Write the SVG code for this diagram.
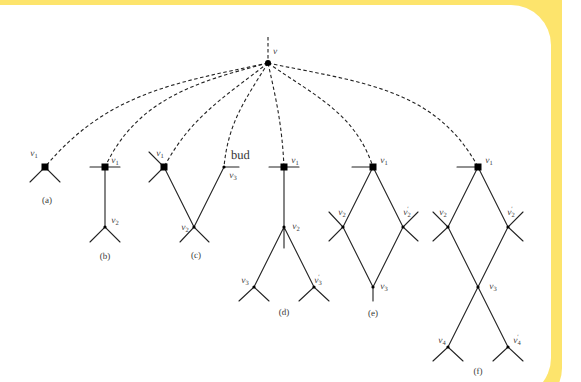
<svg xmlns="http://www.w3.org/2000/svg" width="581" height="382" viewBox="0 0 581 382">
  <style>
    .ln { stroke: #222; stroke-width: 1.1; fill: none; stroke-linecap: round; }
    .dash { stroke: #222; stroke-width: 1.1; fill: none; stroke-dasharray: 3.5 2.5; }
    .sq { fill: #000; }
    .dot { fill: #000; }
    text { text-rendering: geometricPrecision; }
    .lab { font-family: "Liberation Serif", "DejaVu Serif", serif; font-style: italic; font-size: 9.5px; fill: #3a3a3a; text-anchor: middle; }
    .sub { font-size: 6.5px; font-style: normal; fill: #3a3a3a; }
    .cap { font-family: "Liberation Serif", "DejaVu Serif", serif; font-size: 9px; fill: #3a3a3a; text-anchor: middle; }
    .bud { font-family: "Liberation Serif", "DejaVu Serif", serif; font-size: 12.5px; fill: #333; }
  </style>
  <defs>
    <rect id="sqv" class="sq" x="-3.5" y="-3.5" width="7" height="7"/>
    <circle id="pt" class="dot" r="1.6"/>
  </defs>

  <!-- page frame -->
  <rect width="581" height="382" fill="#fff"/>
  <rect x="-40" y="-40" width="602" height="448" rx="40" fill="#fde46c"/>
  <rect x="-40" y="5" width="591" height="393" rx="40" fill="#fff"/>

  <!-- dashed connectors from the root v -->
  <g id="connectors">
    <path class="dash" d="M268 37 L268 63"/>
    <path class="dash" d="M268 63 C174 83 107 93 45 167"/>
    <path class="dash" d="M268 63 C196 82 137 99 105 167"/>
    <path class="dash" d="M268 63 C223 98 191 117 164 167"/>
    <path class="dash" d="M268 63 C245 100 228 123 224 167"/>
    <path class="dash" d="M268 63 C277 103 282 126 284 167"/>
    <path class="dash" d="M268 63 C315 96 355 113 373 167"/>
    <path class="dash" d="M268 63 C357 82 435 87 478 167"/>
  </g>

  <!-- root -->
  <g id="root-v">
    <circle cx="268" cy="63" r="3" fill="#000"/>
    <text class="lab" x="275" y="54">v</text>
  </g>

  <!-- (a) -->
  <g id="tree-a">
    <path class="ln" d="M30 182 L45 167 L60 182"/>
    <use href="#sqv" x="45" y="167"/>
    <text class="lab" x="34" y="156">v<tspan class="sub" dy="2">1</tspan></text>
    <text class="cap" x="47" y="203">(a)</text>
  </g>

  <!-- (b) -->
  <g id="tree-b">
    <path class="ln" d="M90 167 L120 167 M105 167 L105 227 M90 242 L105 227 L120 242"/>
    <use href="#sqv" x="105" y="167"/>
    <use href="#pt" x="105" y="227"/>
    <text class="lab" x="115" y="163">v<tspan class="sub" dy="2">1</tspan></text>
    <text class="lab" x="115" y="223">v<tspan class="sub" dy="2">2</tspan></text>
    <text class="cap" x="105" y="259">(b)</text>
  </g>

  <!-- (c) with bud -->
  <g id="tree-c">
    <path class="ln" d="M149 152 L164 167 L149 182 M164 167 L194 227 L224 167 L239 167 M180 242 L194 227 L209 242"/>
    <use href="#sqv" x="164" y="167"/>
    <use href="#pt" x="194" y="227"/>
    <use href="#pt" x="224" y="167"/>
    <text class="lab" x="160" y="156">v<tspan class="sub" dy="2">1</tspan></text>
    <text class="lab" x="185" y="230">v<tspan class="sub" dy="2">2</tspan></text>
    <text class="lab" x="233" y="178">v<tspan class="sub" dy="2">3</tspan></text>
    <text class="bud" x="231" y="159">bud</text>
    <text class="cap" x="196" y="258">(c)</text>
  </g>

  <!-- (d) -->
  <g id="tree-d">
    <path class="ln" d="M269 167 L299 167 M284 167 L284 248 M284 227 L254 287 M284 227 L314 287 M239 301 L254 287 L269 301 M299 301 L314 287 L329 301"/>
    <use href="#sqv" x="284" y="167"/>
    <use href="#pt" x="284" y="227"/>
    <use href="#pt" x="254" y="287"/>
    <use href="#pt" x="314" y="287"/>
    <text class="lab" x="295" y="163">v<tspan class="sub" dy="2">1</tspan></text>
    <text class="lab" x="296" y="229">v<tspan class="sub" dy="2">2</tspan></text>
    <text class="lab" x="245" y="283">v<tspan class="sub" dy="2">3</tspan></text>
    <text class="lab" x="318" y="283">v<tspan class="sub" dy="2">3</tspan><tspan class="sub" dx="-3.5" dy="-6">′</tspan></text>
    <text class="cap" x="284" y="315">(d)</text>
  </g>

  <!-- (e) -->
  <g id="tree-e">
    <path class="ln" d="M352 167 L373 167 M373 167 L343 227 L373 287 L403 227 Z M329 212 L343 227 L329 241 M418 212 L403 227 L418 241 M373 287 L373 301"/>
    <use href="#sqv" x="373" y="167"/>
    <use href="#pt" x="343" y="227"/>
    <use href="#pt" x="403" y="227"/>
    <use href="#pt" x="373" y="287"/>
    <text class="lab" x="384" y="163">v<tspan class="sub" dy="2">1</tspan></text>
    <text class="lab" x="342" y="215">v<tspan class="sub" dy="2">2</tspan></text>
    <text class="lab" x="407" y="215">v<tspan class="sub" dy="2">2</tspan><tspan class="sub" dx="-3.5" dy="-6">′</tspan></text>
    <text class="lab" x="384" y="289">v<tspan class="sub" dy="2">3</tspan></text>
    <text class="cap" x="373" y="316">(e)</text>
  </g>

  <!-- (f) -->
  <g id="tree-f">
    <path class="ln" d="M457 167 L478 167 M478 167 L448 227 L508 347 M478 167 L508 227 L448 347 M433 212 L448 227 L433 241 M523 212 L508 227 L523 241 M433 361 L448 347 L463 361 M493 361 L508 347 L523 361"/>
    <use href="#sqv" x="478" y="167"/>
    <use href="#pt" x="448" y="227"/>
    <use href="#pt" x="508" y="227"/>
    <use href="#pt" x="478" y="287"/>
    <use href="#pt" x="448" y="347"/>
    <use href="#pt" x="508" y="347"/>
    <text class="lab" x="489" y="163">v<tspan class="sub" dy="2">1</tspan></text>
    <text class="lab" x="443" y="215">v<tspan class="sub" dy="2">2</tspan></text>
    <text class="lab" x="511" y="215">v<tspan class="sub" dy="2">2</tspan><tspan class="sub" dx="-3.5" dy="-6">′</tspan></text>
    <text class="lab" x="493" y="289">v<tspan class="sub" dy="2">3</tspan></text>
    <text class="lab" x="442" y="343">v<tspan class="sub" dy="2">4</tspan></text>
    <text class="lab" x="517" y="343">v<tspan class="sub" dy="2">4</tspan><tspan class="sub" dx="-3.5" dy="-6">′</tspan></text>
    <text class="cap" x="478" y="374">(f)</text>
  </g>
</svg>
